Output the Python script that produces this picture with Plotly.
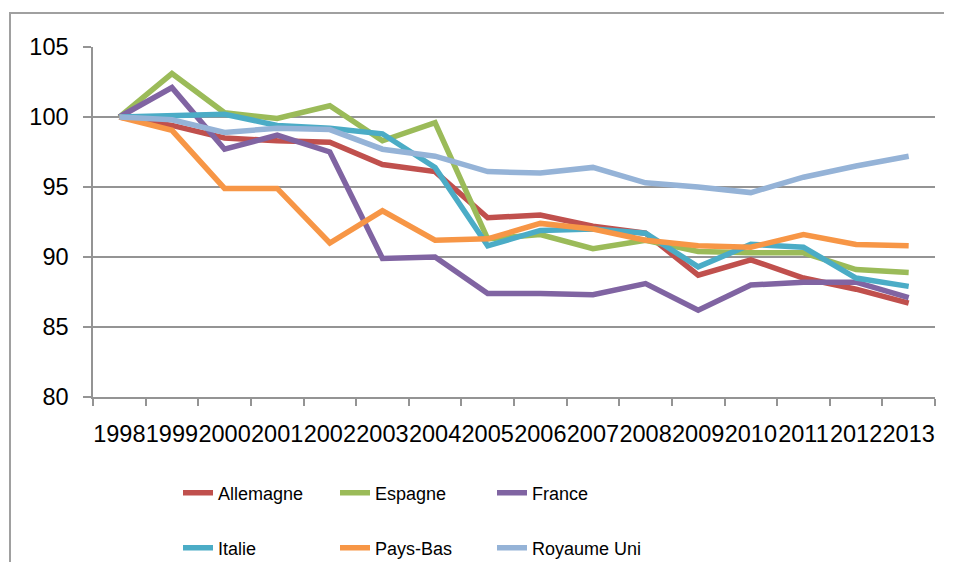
import plotly.graph_objects as go

years = [str(y) for y in range(1998, 2014)]

allemagne = [100, 99.4, 98.5, 98.3, 98.2, 96.6, 96.1, 92.8, 93.0, 92.2, 91.7, 88.7, 89.8, 88.5, 87.7, 86.7]
espagne = [100, 103.1, 100.3, 99.9, 100.8, 98.3, 99.6, 91.3, 91.6, 90.6, 91.2, 90.4, 90.3, 90.3, 89.1, 88.9]
france = [100, 102.1, 97.7, 98.7, 97.5, 89.9, 90.0, 87.4, 87.4, 87.3, 88.1, 86.2, 88.0, 88.2, 88.2, 87.1]
italie = [100, 100.1, 100.2, 99.4, 99.2, 98.8, 96.4, 90.8, 91.9, 92.0, 91.7, 89.3, 90.9, 90.7, 88.5, 87.9]
pays_bas = [100, 99.05, 94.9, 94.9, 91.0, 93.3, 91.2, 91.3, 92.4, 92.0, 91.2, 90.8, 90.7, 91.6, 90.9, 90.8]
royaume_uni = [100, 99.8, 98.9, 99.2, 99.1, 97.7, 97.2, 96.1, 96.0, 96.4, 95.3, 95.0, 94.6, 95.7, 96.5, 97.2]

series_names = ["Allemagne", "Espagne", "France", "Italie", "Pays-Bas", "Royaume Uni"]
series_values = [allemagne, espagne, france, italie, pays_bas, royaume_uni]
colors = ["#C0504D", "#9BBB59", "#8064A2", "#4BACC6", "#F79646", "#95B3D7"]
legend_ids = ["legend", "legend", "legend", "legend2", "legend2", "legend2"]

# the page body adds an 8px margin; keep the figure well inside the window
OFF = 8
W, H = 954 - 2 * OFF, 581 - 2 * OFF - 10
ML, MT = 93 - OFF, 47 - OFF
PW, PH = 842, 350
MR = W - ML - PW
MB = H - MT - PH


def px_x(px):
    return (px - OFF - ML) / PW


def px_y(py):
    return 1 - (py - OFF - MT) / PH


fig = go.Figure()
for name, vals, col, lg in zip(series_names, series_values, colors, legend_ids):
    fig.add_trace(go.Scatter(
        x=years, y=vals, name=name, mode="lines",
        line=dict(color=col, width=5.5),
        legend=lg,
    ))

grid = "#949494"
border = "#a0a0a0"
font_fam = "Liberation Sans, Arial, sans-serif"

legend_common = dict(
    orientation="h",
    xanchor="left",
    yanchor="middle",
    font=dict(family=font_fam, size=18, color="#000000"),
    entrywidth=112,
    entrywidthmode="pixels",
    bgcolor="rgba(0,0,0,0)",
    itemclick=False,
    itemdoubleclick=False,
)

fig.update_layout(
    width=W, height=H,
    margin=dict(l=ML, r=MR, t=MT, b=MB, autoexpand=False),
    paper_bgcolor="white",
    plot_bgcolor="white",
    font=dict(family=font_fam, color="#000000"),
    showlegend=True,
    legend=dict(x=px_x(178), y=px_y(493), **legend_common),
    legend2=dict(x=px_x(178), y=px_y(548), **legend_common),
    xaxis=dict(
        type="category",
        categoryorder="array",
        categoryarray=years,
        range=[-0.5, 15.5],
        tickson="boundaries",
        ticks="outside",
        ticklen=7,
        tickwidth=1.5,
        tickcolor=grid,
        showline=True,
        linecolor=grid,
        linewidth=1.5,
        showgrid=False,
        tickangle=0,
        ticklabelstandoff=15,
        tickfont=dict(family=font_fam, size=23.5, color="#000000"),
        fixedrange=True,
    ),
    yaxis=dict(
        range=[80, 105],
        dtick=5,
        tick0=80,
        ticks="outside",
        ticklen=8,
        tickwidth=1.5,
        tickcolor=grid,
        showline=True,
        linecolor=grid,
        linewidth=1.5,
        showgrid=True,
        gridcolor=grid,
        gridwidth=1.5,
        zeroline=False,
        ticklabelstandoff=10,
        tickfont=dict(family=font_fam, size=23.5, color="#000000"),
        fixedrange=True,
    ),
    shapes=[
        dict(type="path", xref="paper", yref="paper",
             path="M {x0},{y0} L {x0},{y1} L {x1},{y1}".format(
                 x0=px_x(10), y0=px_y(562), y1=px_y(13), x1=px_x(944)),
             line=dict(color=border, width=2), layer="below"),
    ],
)

fig.write_html("out.html", config={"displayModeBar": False})
